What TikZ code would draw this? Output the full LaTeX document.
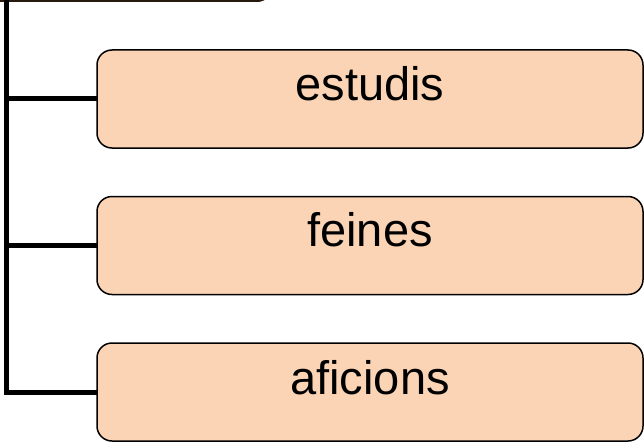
\documentclass[tikz,border=0pt]{standalone}
\usepackage{fontspec}
\setmainfont{Liberation Sans}
\definecolor{peach}{HTML}{FAD4B4}
\begin{document}
\begin{tikzpicture}[x=1pt,y=-1pt,
  itembox/.style={draw=black,line width=1.5pt,fill=peach,rounded corners=15pt,
    minimum width=546pt,minimum height=98pt,inner sep=0pt,outer sep=0pt,anchor=north west},
  itemtext/.style={anchor=base,inner sep=0pt,font=\fontsize{47}{56}\selectfont},
  trunk/.style={line width=5pt,line join=miter,line cap=butt}]
\useasboundingbox (0,0) rectangle (644,441);
\begin{scope}
\clip (0,0) rectangle (644,441);
\draw[line width=2pt,draw=black!80!brown,fill=peach,rounded corners=15pt] (-60,-120) rectangle (272,1);
\end{scope}
\node[itembox] (b1) at (97,50) {};
\node[itembox] (b2) at (97,196.5) {};
\node[itembox] (b3) at (97,343) {};
\node[itemtext] (t1) at (370,100) {estudis};
\node[itemtext] (t2) at (370,246) {feines};
\node[itemtext] (t3) at (370,394) {aficions};
\coordinate (top) at (6.5,0);
\draw[trunk] (top) |- (b3.west);
\draw[trunk] (b1.west -| top) -- (b1.west);
\draw[trunk] (b2.west -| top) -- (b2.west);
\end{tikzpicture}
\end{document}
